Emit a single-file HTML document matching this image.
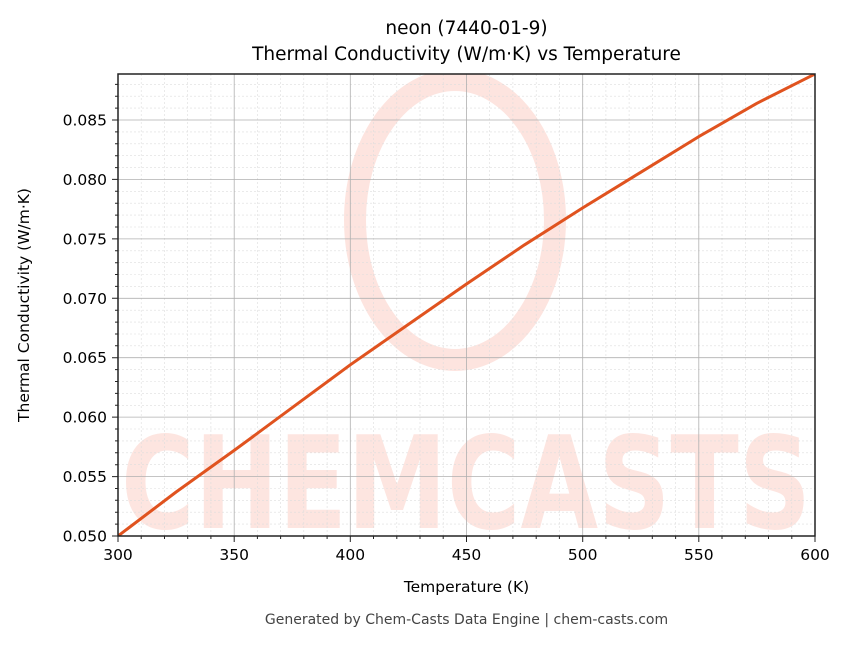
<!DOCTYPE html>
<html><head><meta charset="utf-8"><style>
body{margin:0;background:#fff;}
svg text{font-family:"DejaVu Sans","Liberation Sans",sans-serif;}
</style></head><body>
<svg width="850" height="644" viewBox="0 0 850 644" xmlns="http://www.w3.org/2000/svg">
<rect width="850" height="644" fill="#fff"/>
<defs><clipPath id="c"><rect x="118" y="74" width="697" height="462"/></clipPath></defs>
<g clip-path="url(#c)">
<g opacity="0.18" fill="none" stroke="#f46a50">
<ellipse cx="455" cy="220" rx="100" ry="140" stroke-width="22"/>
</g>
<text x="466" y="528" text-anchor="middle" font-size="128" font-weight="bold" fill="#f46a50" opacity="0.17" textLength="690" lengthAdjust="spacingAndGlyphs" style="font-family:'DejaVu Sans',sans-serif">CHEMCASTS</text>
<g stroke="#ddd" stroke-width="0.6" stroke-dasharray="2,2">
<path d="M141.2 74V536M164.5 74V536M187.7 74V536M210.9 74V536M257.4 74V536M280.6 74V536M303.8 74V536M327.1 74V536M373.5 74V536M396.8 74V536M420 74V536M443.2 74V536M489.7 74V536M512.9 74V536M536.2 74V536M559.4 74V536M605.9 74V536M629.1 74V536M652.3 74V536M675.6 74V536M722 74V536M745.3 74V536M768.5 74V536M791.8 74V536"/>
<path d="M118 524.1H815M118 512.2H815M118 500.3H815M118 488.5H815M118 464.7H815M118 452.8H815M118 440.9H815M118 429H815M118 405.3H815M118 393.4H815M118 381.5H815M118 369.6H815M118 345.8H815M118 334H815M118 322.1H815M118 310.2H815M118 286.4H815M118 274.5H815M118 262.7H815M118 250.8H815M118 227H815M118 215.1H815M118 203.2H815M118 191.3H815M118 167.6H815M118 155.7H815M118 143.8H815M118 131.9H815M118 108.1H815M118 96.2H815M118 84.4H815"/>
</g>
<g stroke="#b0b0b0" stroke-width="0.8">
<path d="M234.2 74V536M350.3 74V536M466.5 74V536M582.7 74V536M698.8 74V536"/>
<path d="M118 476.6H815M118 417.1H815M118 357.7H815M118 298.3H815M118 238.9H815M118 179.4H815M118 120H815"/>
</g>
<polyline points="118,536 176.1,492 234.2,450.4 292.3,407.6 350.3,364.8 408.4,324.4 466.5,284 524.6,244.8 582.7,207.9 640.7,172.3 698.8,136.6 756.9,103.3 815,74" fill="none" stroke="#e0531f" stroke-width="3" stroke-linejoin="round"/>
</g>
<rect x="118" y="74" width="697" height="462" fill="none" stroke="#222" stroke-width="1.5"/>
<g stroke="#222" stroke-width="1">
<path d="M118 536v6M234.2 536v6M350.3 536v6M466.5 536v6M582.7 536v6M698.8 536v6M815 536v6"/>
<path d="M118 536h-6M118 476.6h-6M118 417.1h-6M118 357.7h-6M118 298.3h-6M118 238.9h-6M118 179.4h-6M118 120h-6"/>
<path d="M141.2 536v3M164.5 536v3M187.7 536v3M210.9 536v3M257.4 536v3M280.6 536v3M303.8 536v3M327.1 536v3M373.5 536v3M396.8 536v3M420 536v3M443.2 536v3M489.7 536v3M512.9 536v3M536.2 536v3M559.4 536v3M605.9 536v3M629.1 536v3M652.3 536v3M675.6 536v3M722 536v3M745.3 536v3M768.5 536v3M791.8 536v3"/>
<path d="M118 524.1h-3M118 512.2h-3M118 500.3h-3M118 488.5h-3M118 464.7h-3M118 452.8h-3M118 440.9h-3M118 429h-3M118 405.3h-3M118 393.4h-3M118 381.5h-3M118 369.6h-3M118 345.8h-3M118 334h-3M118 322.1h-3M118 310.2h-3M118 286.4h-3M118 274.5h-3M118 262.7h-3M118 250.8h-3M118 227h-3M118 215.1h-3M118 203.2h-3M118 191.3h-3M118 167.6h-3M118 155.7h-3M118 143.8h-3M118 131.9h-3M118 108.1h-3M118 96.2h-3M118 84.4h-3"/>
</g>
<g font-size="15.5" fill="#000" text-anchor="middle">
<text x="118" y="560">300</text><text x="234.2" y="560">350</text><text x="350.3" y="560">400</text><text x="466.5" y="560">450</text><text x="582.7" y="560">500</text><text x="698.8" y="560">550</text><text x="815" y="560">600</text>
</g>
<g font-size="15.5" fill="#000" text-anchor="end">
<text x="107" y="541.5">0.050</text><text x="107" y="482.1">0.055</text><text x="107" y="422.6">0.060</text><text x="107" y="363.2">0.065</text><text x="107" y="303.8">0.070</text><text x="107" y="244.4">0.075</text><text x="107" y="184.9">0.080</text><text x="107" y="125.5">0.085</text>
</g>
<text x="466.5" y="592" font-size="15.5" text-anchor="middle">Temperature (K)</text>
<text transform="translate(29 305) rotate(-90)" font-size="15.5" text-anchor="middle">Thermal Conductivity (W/m·K)</text>
<text x="466.5" y="34" font-size="18.5" text-anchor="middle">neon (7440-01-9)</text>
<text x="466.5" y="60" font-size="18.5" text-anchor="middle">Thermal Conductivity (W/m·K) vs Temperature</text>
<text x="466.5" y="624" font-size="14" fill="#444" text-anchor="middle">Generated by Chem-Casts Data Engine | chem-casts.com</text>
</svg>
</body></html>
